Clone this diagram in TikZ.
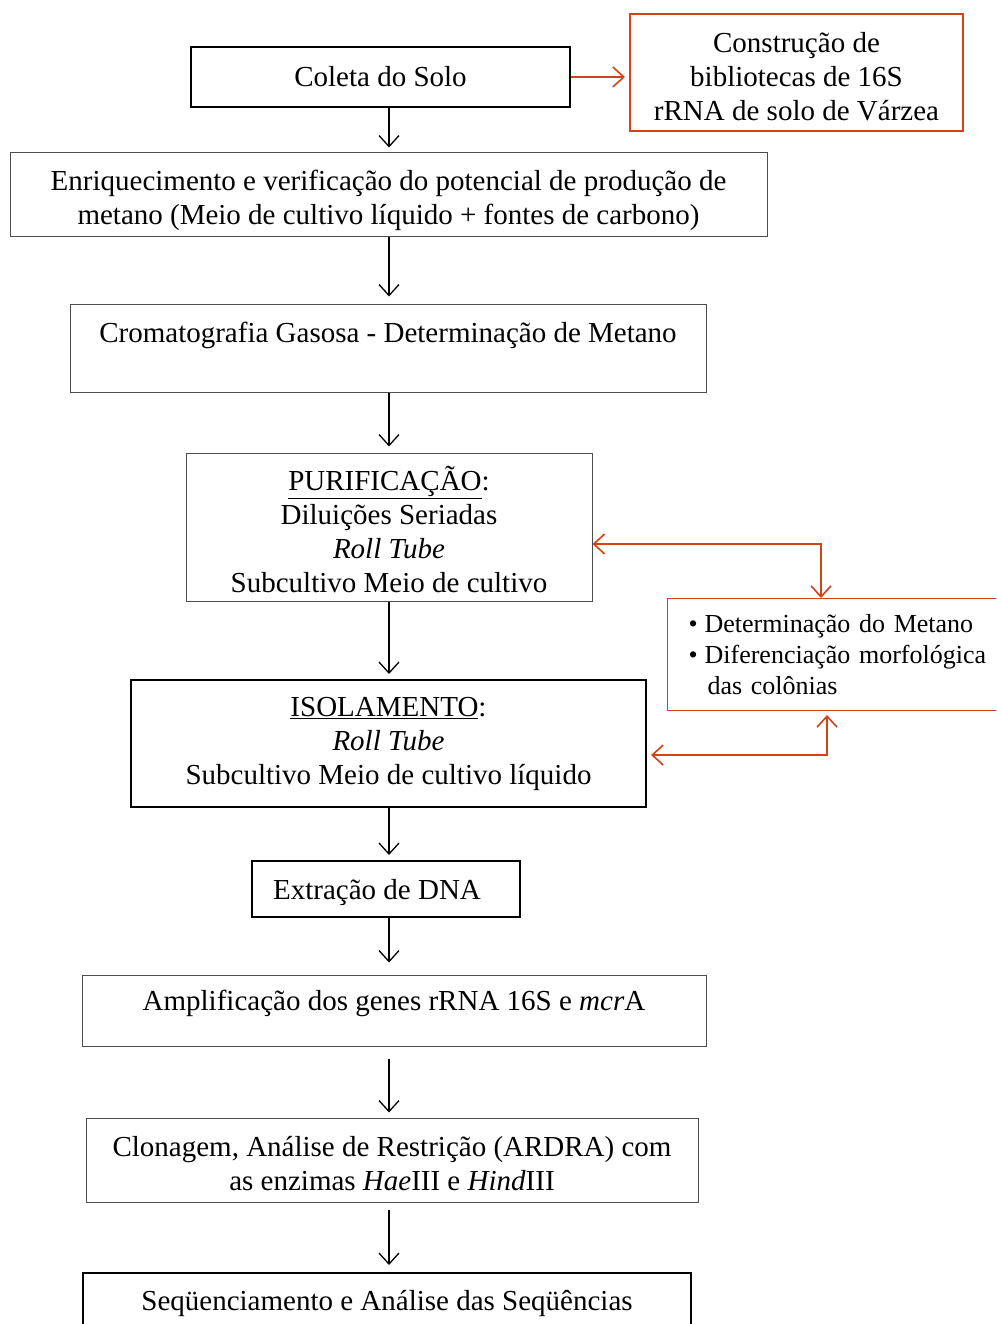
\documentclass[tikz,border=0pt]{standalone}
\usepackage{fontspec}
\setmainfont{Liberation Serif}
\usetikzlibrary{arrows.meta}
\definecolor{org}{RGB}{208,68,24}
\newcommand{\topstrut}[1]{\rule{0pt}{#1pt}}
\begin{document}
\begin{tikzpicture}[x=1pt,y=-1pt,
  txt/.style={font=\fontsize{29}{34}\selectfont, align=center, inner sep=0pt},
  thinbox/.style={txt, draw=black!70, line width=1pt},
  thickbox/.style={txt, draw=black, line width=2pt},
  arr/.style={line width=1.3pt, -{Straight Barb[length=11pt,width=20pt]}},
  oarr/.style={draw=org, line width=1.6pt, -{Straight Barb[length=11pt,width=20pt]}},
  oboth/.style={draw=org, line width=1.6pt, {Straight Barb[length=11pt,width=20pt]}-{Straight Barb[length=11pt,width=20pt]}}]
\useasboundingbox (0,0) rectangle (996,1324);
\clip (0,0) rectangle (996,1324);
\fill[white] (0,0) rectangle (996,1324);

\node[thickbox, minimum width=379pt, minimum height=60pt] (coleta) at (380.5,77) {Coleta do Solo};
\node[txt, draw=org, line width=2pt, minimum width=333pt, minimum height=117pt] (constr) at (796.5,72.5) {\topstrut{28}Construção de\\bibliotecas de 16S\\rRNA de solo de Várzea};
\node[thinbox, minimum width=757pt, minimum height=84pt] (enriq) at (388.5,195) {\topstrut{32}Enriquecimento e verificação do potencial de produção de\\metano (Meio de cultivo líquido + fontes de carbono)};
\node[thinbox, minimum width=636pt, minimum height=88pt, text height=20pt, text depth=32pt] (croma) at (388,348) {Cromatografia Gasosa - Determinação de Metano};
\node[thinbox, minimum width=406pt, minimum height=148pt] (purif) at (389,527) {\topstrut{29}\underline{PURIFICAÇÃO}:\\Diluições Seriadas\\\textit{Roll Tube}\\Subcultivo Meio de cultivo};
\node[draw=org, line width=1pt, font=\fontsize{26}{31}\selectfont, align=left, text width=310pt, inner xsep=21pt, inner ysep=0pt, minimum height=112pt, anchor=north west] (side) at (667,598) {•\hspace{7pt}Determinação do Metano\\•\hspace{7pt}Diferenciação morfológica\\\hspace*{19pt}das colônias};
\node[thickbox, minimum width=515pt, minimum height=127pt] (isol) at (388.5,743.5) {\underline{ISOLAMENTO}:\\\textit{Roll Tube}\\Subcultivo Meio de cultivo líquido};
\node[thickbox, minimum width=268pt, minimum height=56pt, text height=20pt, text depth=0pt] (extr) at (386,889) {Extração de DNA\hspace*{18pt}};
\node[thinbox, minimum width=624pt, minimum height=71pt, text height=20pt, text depth=20pt] (ampl) at (394,1010.5) {Amplificação dos genes rRNA 16S e \textit{mcr}A};
\node[thinbox, minimum width=612pt, minimum height=84pt] (clon) at (392,1160) {\topstrut{28}Clonagem, Análise de Restrição (ARDRA) com\\as enzimas \textit{Hae}III e \textit{Hind}III};
\node[thickbox, minimum width=608pt, minimum height=74pt, text height=20pt, text depth=20pt] (seq) at (387,1310) {Seqüenciamento e Análise das Seqüências};

\coordinate (ax) at (389,0);
\draw[arr, shorten >=5pt] (coleta.south -| ax) -- (enriq.north -| ax);
\draw[arr, shorten >=7pt] (enriq.south -| ax) -- (croma.north -| ax);
\draw[arr, shorten >=6pt] (croma.south -| ax) -- (purif.north -| ax);
\draw[arr, shorten >=5pt] (purif.south -| ax) -- (isol.north -| ax);
\draw[arr, shorten >=5pt] (isol.south -| ax) -- (extr.north -| ax);
\draw[arr, shorten >=12pt] (extr.south -| ax) -- (ampl.north -| ax);
\draw[arr, shorten <=12pt, shorten >=5pt] (ampl.south -| ax) -- (clon.north -| ax);
\draw[arr, shorten <=7pt, shorten >=7pt] (clon.south -| ax) -- (seq.north -| ax);

\draw[oarr, shorten >=4pt] (coleta.east) -- (constr.west |- coleta.east);
\coordinate (p1) at (821,544);
\draw[oboth] (p1 -| purif.east) -- (p1) -- (p1 |- side.north);
\coordinate (p2) at (827,755);
\draw[oboth, shorten <=4pt, shorten >=4pt] (p2 -| isol.east) -- (p2) -- (p2 |- side.south);
\end{tikzpicture}
\end{document}
